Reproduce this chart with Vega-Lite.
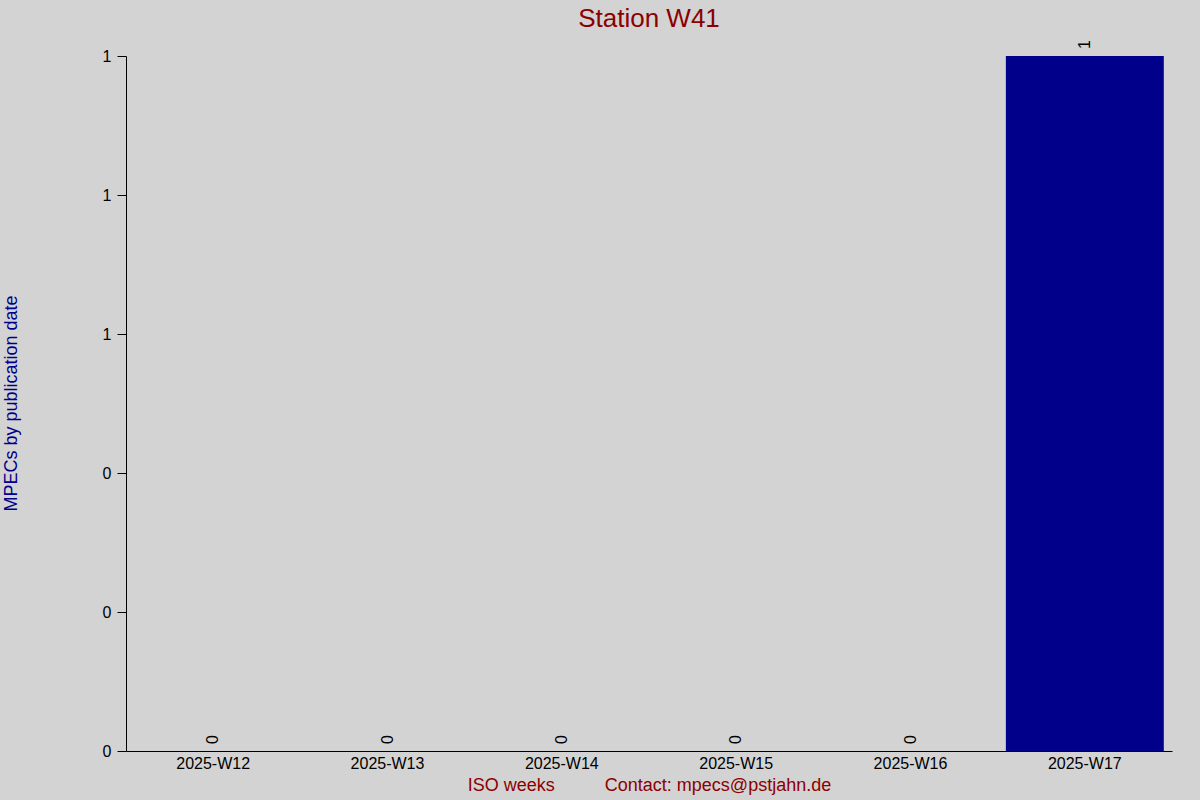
{
  "$schema": "https://vega.github.io/schema/vega-lite/v6.json",
  "width": 1046,
  "height": 695,
  "autosize": {"type": "none"},
  "padding": {"left": 126, "top": 56, "right": 28, "bottom": 49},
  "background": "#d3d3d3",
  "title": {
    "text": "Station W41",
    "fontSize": 26,
    "fontWeight": "normal",
    "color": "#8b0000",
    "font": "Liberation Sans",
    "frame": "group",
    "anchor": "middle",
    "baseline": "bottom",
    "offset": 0,
    "dy": 18
  },
  "data": {
    "values": [
      {"week": "2025-W12", "count": 0},
      {"week": "2025-W13", "count": 0},
      {"week": "2025-W14", "count": 0},
      {"week": "2025-W15", "count": 0},
      {"week": "2025-W16", "count": 0},
      {"week": "2025-W17", "count": 1}
    ]
  },
  "encoding": {
    "x": {
      "field": "week",
      "type": "nominal",
      "sort": null,
      "scale": {"paddingInner": 0.094, "paddingOuter": 0.047},
      "axis": {
        "title": "ISO weeks\u00a0\u00a0\u00a0\u00a0\u00a0\u00a0\u00a0\u00a0\u00a0\u00a0Contact: mpecs@pstjahn.de",
        "titleColor": "#8b0000",
        "titleFontSize": 18,
        "titleFontWeight": "normal",
        "titlePadding": 5,
        "labelAngle": 0,
        "labelFontSize": 16,
        "labelColor": "#000000",
        "labelPadding": 4,
        "ticks": false,
        "domainColor": "#000000",
        "domainWidth": 1,
        "grid": false
      }
    },
    "y": {
      "field": "count",
      "type": "quantitative",
      "scale": {"domain": [0, 1], "nice": false},
      "axis": {
        "title": "MPECs by publication date",
        "titleColor": "#00008b",
        "titleFontSize": 18,
        "titleFontWeight": "normal",
        "titleAngle": -90,
        "titleAlign": "center",
        "titleBaseline": "middle",
        "titleX": -115,
        "titleY": 347,
        "values": [0, 0.2, 0.4, 0.6, 0.8, 1],
        "labelExpr": "toString(round(datum.value))",
        "labelOverlap": false,
        "labelFontSize": 16,
        "labelColor": "#000000",
        "labelPadding": 6,
        "tickSize": 9,
        "tickColor": "#000000",
        "domainColor": "#000000",
        "grid": false
      }
    }
  },
  "layer": [
    {
      "mark": {"type": "bar", "color": "#00008b"}
    },
    {
      "mark": {
        "type": "text",
        "angle": 270,
        "align": "left",
        "baseline": "middle",
        "dx": 7,
        "fontSize": 16,
        "color": "#000000"
      },
      "encoding": {
        "text": {"field": "count", "type": "quantitative"}
      }
    }
  ],
  "config": {
    "font": "Liberation Sans",
    "view": {"stroke": null}
  }
}
